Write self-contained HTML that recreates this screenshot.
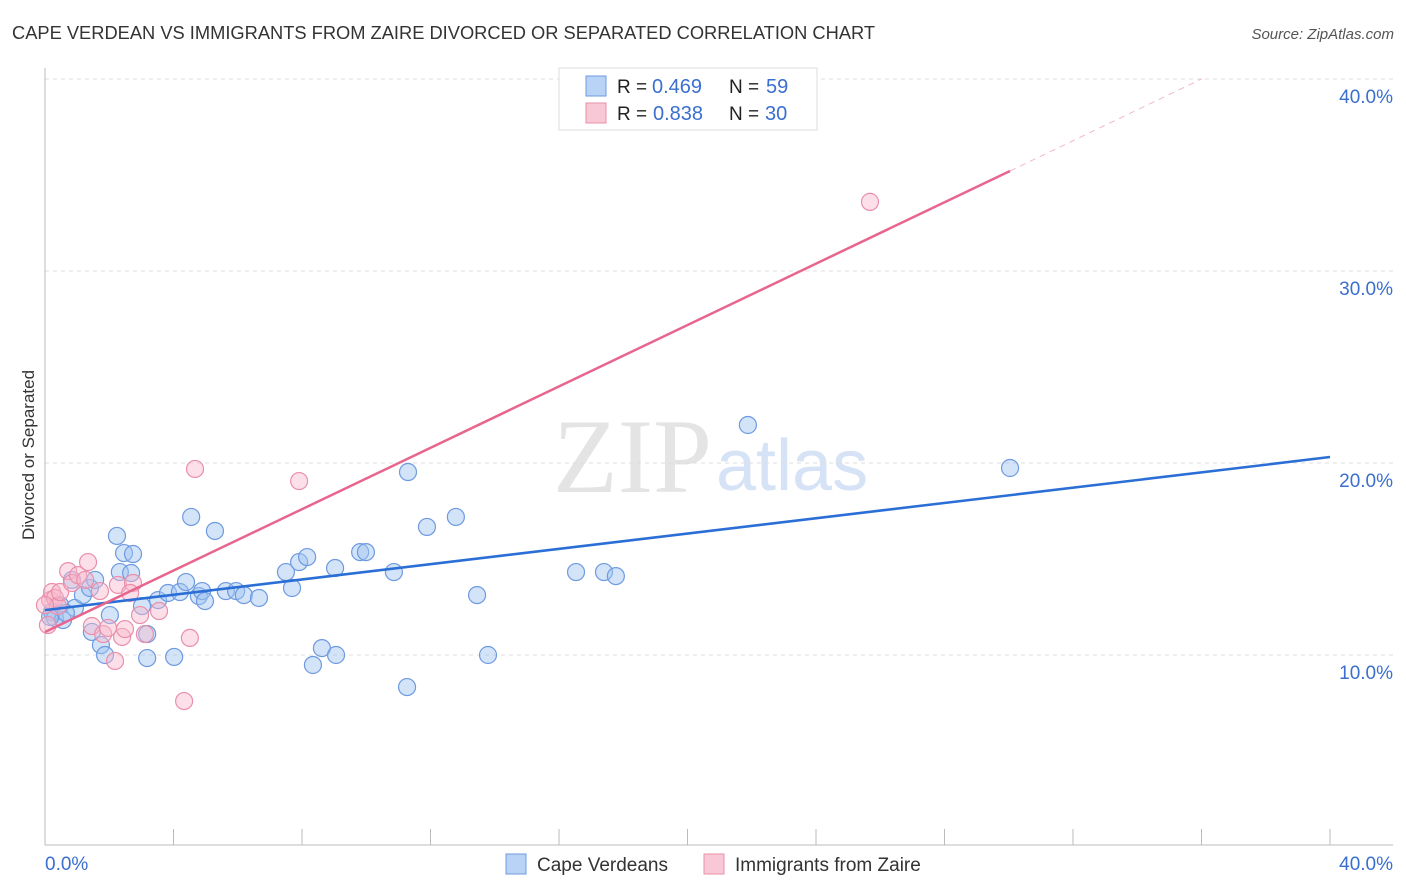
<!DOCTYPE html>
<html><head><meta charset="utf-8"><style>
body{margin:0;background:#fff;font-family:"Liberation Sans",sans-serif}
svg{display:block}
</style></head><body>
<svg width="1406" height="892" xmlns="http://www.w3.org/2000/svg">
<text x="12" y="39" font-size="18.3" fill="#333">CAPE VERDEAN VS IMMIGRANTS FROM ZAIRE DIVORCED OR SEPARATED CORRELATION CHART</text>
<text x="1394" y="39" font-size="15" fill="#555" font-style="italic" text-anchor="end">Source: ZipAtlas.com</text>
<text x="712" y="492" font-size="106" fill="#e4e4e4" text-anchor="end" font-family="Liberation Serif">ZIP</text>
<text x="716" y="490" font-size="72" fill="#d6e2f5">atlas</text>
<g id="grid"></g>
<g id="axes"></g>
<g id="pts"></g>
<g id="lines"></g>
<text transform="translate(34,455) rotate(-90)" font-size="17" fill="#333" text-anchor="middle">Divorced or Separated</text>
<g>
<rect x="559" y="68" width="258" height="62" fill="#fff" stroke="#ddd"/>
<rect x="586" y="76" width="20" height="20" fill="#b9d3f6" stroke="#6d9ae0"/>
<rect x="586" y="103" width="20" height="20" fill="#f9c8d6" stroke="#ea8fab"/>
<text x="617" y="93" font-size="19" fill="#222">R = </text><text x="652" y="93" font-size="20" fill="#3a6fd0">0.469</text>
<text x="729" y="93" font-size="19" fill="#222">N = </text><text x="766" y="93" font-size="20" fill="#3a6fd0">59</text>
<text x="617" y="120" font-size="19" fill="#222">R = </text><text x="653" y="120" font-size="20" fill="#3a6fd0">0.838</text>
<text x="729" y="120" font-size="19" fill="#222">N = </text><text x="765" y="120" font-size="20" fill="#3a6fd0">30</text>
</g>
<g>
<rect x="506" y="854" width="20" height="20" fill="#b9d3f6" stroke="#6d9ae0"/>
<text x="537" y="871" font-size="19" fill="#333">Cape Verdeans</text>
<rect x="704" y="854" width="20" height="20" fill="#f9c8d6" stroke="#ea8fab"/>
<text x="735" y="871" font-size="19" fill="#333">Immigrants from Zaire</text>
</g>
</svg>
<script>
const yTicks=[10,20,30,40];
const yTickLabels=["10.0%","20.0%","30.0%","40.0%"];
const xTickLabels=["0.0%","40.0%"];
const blueX=[0.22,0.31,0.47,0.56,0.84,0.93,1.18,1.40,1.56,1.46,1.74,1.87,2.02,2.24,2.33,2.46,2.68,2.74,3.02,3.18,3.18,3.52,3.83,4.02,4.20,4.39,4.55,4.79,4.89,4.98,5.29,5.63,5.95,6.19,6.66,7.50,7.69,7.91,8.16,8.34,8.62,9.03,9.06,9.81,9.99,10.86,11.27,11.30,11.89,12.79,13.45,13.79,16.53,17.40,17.77,21.88,30.04,0.16,0.65];
const blueY=[12.24,11.93,12.60,11.82,13.91,12.45,13.12,13.49,13.91,11.20,10.52,10.00,12.08,16.20,14.32,15.31,14.27,15.26,12.55,11.09,9.84,12.86,13.23,9.90,13.28,13.80,17.19,13.07,13.33,12.81,16.46,13.33,13.33,13.12,12.97,14.32,13.49,14.84,15.10,9.48,10.36,14.53,10.00,15.36,15.36,14.32,8.33,19.53,16.67,17.19,13.12,10.00,14.32,14.32,14.11,21.98,19.74,11.98,12.19];
const pinkX=[0.16,0.22,0.31,0.40,0.47,0.72,0.84,1.03,1.25,1.34,1.46,1.71,1.81,1.96,2.18,2.27,2.40,2.49,2.74,2.65,2.96,3.11,3.55,4.33,4.51,4.67,7.91,25.68,0.0,0.09];
const pinkY=[12.86,13.28,12.97,12.55,13.28,14.37,13.75,14.16,13.91,14.84,11.51,13.33,11.09,11.41,9.69,13.65,10.94,11.35,13.75,13.23,12.08,11.09,12.29,7.60,10.89,19.69,19.06,33.60,12.60,11.56];
const blueLine=[[0,12.34],[40,20.31]];
const pinkLine=[[0,11.2],[30.04,35.21]];
const pinkDash=[[30.04,35.21],[36,40.0]];
const X=v=>45+v*32.125, Y=v=>655-(v-10)*19.2;
const NS="http://www.w3.org/2000/svg";
function mk(t,a,p){const e=document.createElementNS(NS,t);for(const k in a)e.setAttribute(k,a[k]);p.appendChild(e);return e;}
const grid=document.getElementById('grid'),axes=document.getElementById('axes'),pts=document.getElementById('pts'),lines=document.getElementById('lines');
yTicks.forEach((t,i)=>{
 const l=mk('line',{x1:45,x2:1393,y1:Y(t),y2:Y(t),stroke:'#ddd','stroke-dasharray':'4,4'},grid);
 
 
 const tx=mk('text',{x:1393,y:Y(t)+24,'font-size':19,fill:'#3a6fd0','text-anchor':'end'},axes);
 tx.textContent=yTickLabels[i];
 
 
});
let a=mk('line',{x1:45,x2:45,y1:68,y2:845,stroke:'#bbb'},axes);


a=mk('line',{x1:45,x2:1393,y1:845,y2:845,stroke:'#bbb'},axes);


for(let i=0;i<=10;i++){const t=mk('line',{x1:X(i*4),x2:X(i*4),y1:829,y2:845,stroke:'#bbb'},axes);
 
 }
[[0,'start'],[40,'end']].forEach((d,i)=>{const t=mk('text',{x:i?1393:45,y:870,'font-size':19,fill:'#3a6fd0','text-anchor':d[1]},axes);t.textContent=xTickLabels[i];
 
 });
blueX.forEach((v,i)=>{const c=mk('circle',{cx:X(v),cy:Y(blueY[i]),r:8.5,fill:'rgba(160,196,240,0.45)',stroke:'#6d9ae0','stroke-width':1.2},pts);
 
 });
pinkX.forEach((v,i)=>{const c=mk('circle',{cx:X(v),cy:Y(pinkY[i]),r:8.5,fill:'rgba(248,184,204,0.45)',stroke:'#ea8fab','stroke-width':1.2},pts);
 
 });
let L=mk('line',{x1:X(blueLine[0][0]),y1:Y(blueLine[0][1]),x2:X(blueLine[1][0]),y2:Y(blueLine[1][1]),stroke:'#2a6ed6','stroke-width':2.5},lines);


L=mk('line',{x1:X(pinkLine[0][0]),y1:Y(pinkLine[0][1]),x2:X(pinkLine[1][0]),y2:Y(pinkLine[1][1]),stroke:'#e8658e','stroke-width':2.5},lines);


L=mk('line',{x1:X(pinkDash[0][0]),y1:Y(pinkDash[0][1]),x2:X(pinkDash[1][0]),y2:Y(pinkDash[1][1]),stroke:'#f0b8c8','stroke-width':1,'stroke-dasharray':'6,5'},lines);


</script>
</body></html>
